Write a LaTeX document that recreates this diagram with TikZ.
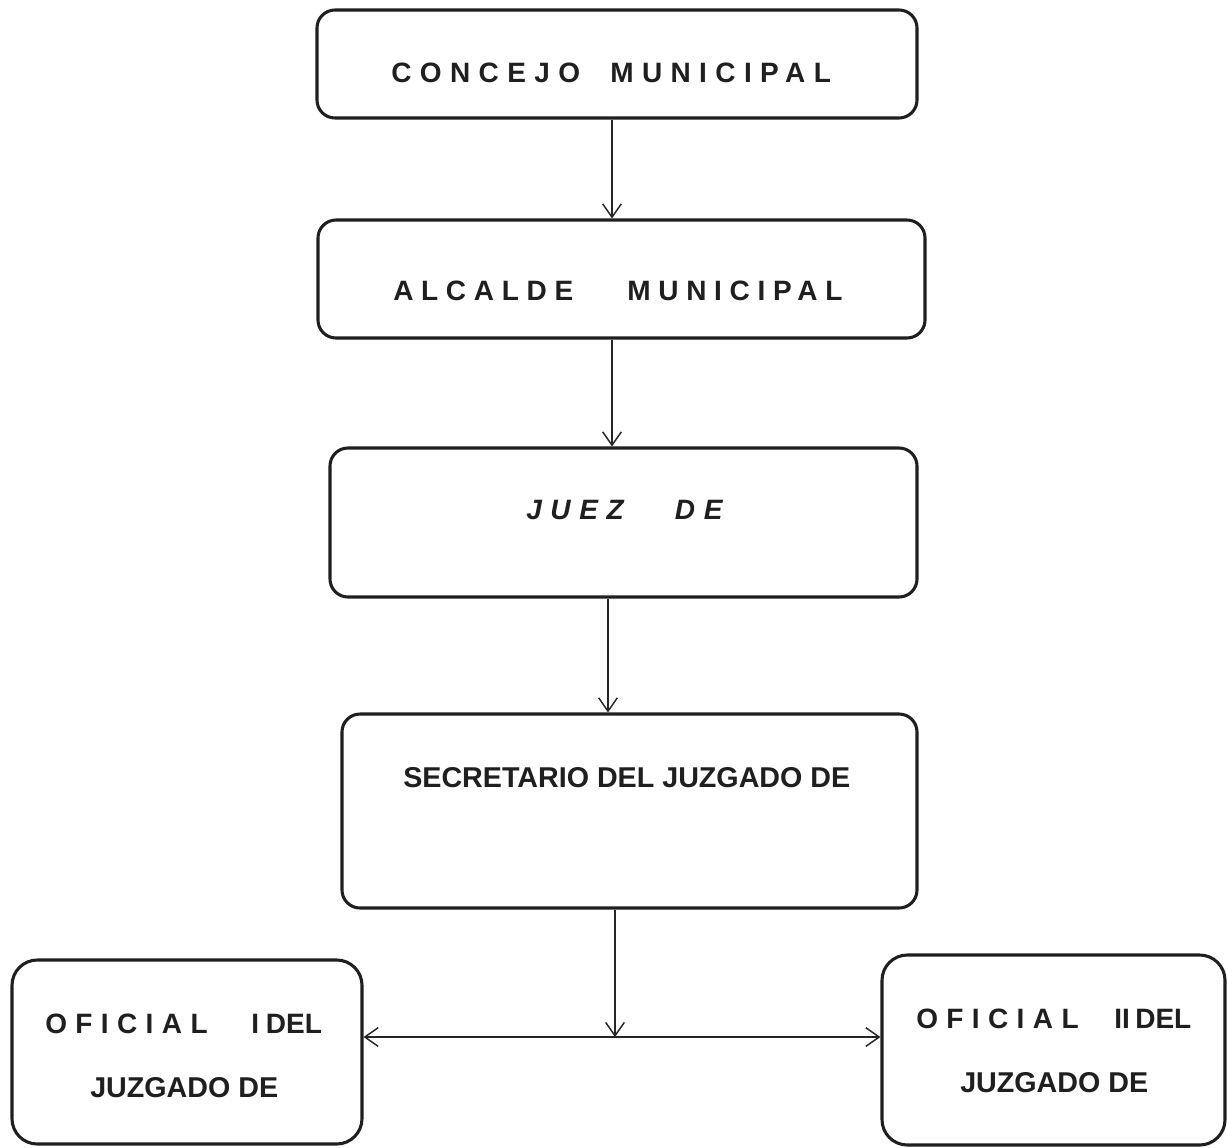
\documentclass[tikz,border=0pt]{standalone}
\usepackage{fontspec}
\setmainfont{Liberation Sans}
\newfontfamily\spacedA[LetterSpace=30]{Liberation Sans}
\newfontfamily\spacedB[LetterSpace=27.5]{Liberation Sans}
\newfontfamily\spacedC[LetterSpace=31]{Liberation Sans}
\usetikzlibrary{arrows.meta}
\begin{document}
\begin{tikzpicture}[x=0.75pt,y=-0.75pt,
  box/.style 2 args={draw=black!88, line width=2.3pt, rounded corners=13.5pt,
    minimum width=#1*0.75pt, minimum height=#2*0.75pt, inner sep=0pt},
  bigbox/.style 2 args={box={#1}{#2}, rounded corners=19pt},
  lbl/.style={font=\fontsize{21}{25}\selectfont\bfseries, inner sep=0pt, anchor=base west, text=black!88},
  lblb/.style={lbl, font=\fontsize{21.5}{25}\selectfont\bfseries},
  arr/.style={draw=black!85, line width=1.1pt, -{Straight Barb[length=10pt,width=14pt,line width=1.1pt]}},
  darr/.style={draw=black!85, line width=1.1pt, {Straight Barb[length=10pt,width=14pt,line width=1.1pt]}-{Straight Barb[length=10pt,width=14pt,line width=1.1pt]}}
]
\useasboundingbox (0,0) rectangle (1227,1147);
\fill[white] (0,0) rectangle (1227,1147);

% boxes
\node[box={600}{108}]   (concejo) at (617,64) {};
\node[box={607}{118}]   (alcalde) at (621.5,279) {};
\node[box={587}{149}]   (juez)    at (623.5,522.5) {};
\node[box={575}{194}]   (secre)   at (629.5,811) {};
\node[bigbox={350}{184}] (of1)    at (187,1052) {};
\node[bigbox={343}{190}] (of2)    at (1053.5,1050) {};

% labels
\node[lbl] (t1) at (391,82) {\spacedA CONCEJO\hspace{10.5pt} MUNICIPAL};
\node[lbl] (t2) at (393,300) {\spacedB ALCALDE\hspace{29pt} MUNICIPAL};
\node[lbl, font=\fontsize{21}{25}\selectfont\bfseries\itshape] (t3) at (526,519) {\spacedC JUEZ\hspace{26pt} DE};
\node[lblb] (t4) at (403,787) {SECRETARIO DEL JUZGADO DE};
\node[lbl] (t5a) at (45,1033) {{\spacedA OFICIAL}\hspace{27pt} I\hspace{5pt}DEL};
\node[lblb] (t5b) at (90,1097) {JUZGADO DE};
\node[lbl] (t6a) at (916,1028) {{\spacedA OFICIAL}\hspace{21pt} II\hspace{4pt}DEL};
\node[lblb] (t6b) at (960,1092) {JUZGADO DE};

% connector columns
\coordinate (c1) at (612,0);
\coordinate (c3) at (608,0);
\coordinate (j)  at (615,1037);

\draw[arr] (concejo.south -| c1) -- (alcalde.north -| c1);
\draw[arr] (alcalde.south -| c1) -- (juez.north -| c1);
\draw[arr] (juez.south -| c3) -- (secre.north -| c3);
\draw[arr] (secre.south -| j) -- (j);
\draw[darr] (of1.east |- j) -- (of2.west |- j);
\end{tikzpicture}
\end{document}
